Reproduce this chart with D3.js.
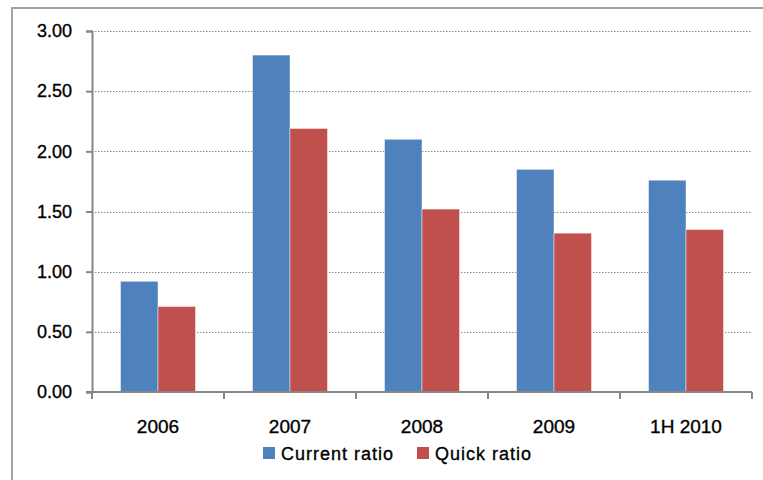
<!DOCTYPE html>
<html>
<head>
<meta charset="utf-8">
<script src="https://cdn.jsdelivr.net/npm/d3@7"></script>
<style>
  html, body { margin: 0; padding: 0; background: #fff; }
  svg { display: block; }
  text { font-family: "Liberation Sans", Arial, sans-serif; fill: #000; stroke: #000; stroke-width: 0.35px; }
</style>
</head>
<body>
<svg id="chart" width="763" height="480"></svg>
<script>
// Liquidity ratios by period
const categories = ["2006", "2007", "2008", "2009", "1H 2010"];
const seriesNames = ["Current ratio", "Quick ratio"];
const currentRatio = [0.92, 2.80, 2.10, 1.85, 1.76];
const quickRatio = [0.71, 2.19, 1.52, 1.32, 1.35];
const yTicks = [0, 0.5, 1.0, 1.5, 2.0, 2.5, 3.0];
const colors = ["#4F81BD", "#C0504D"];

const svg = d3.select("#chart");
const plot = { left: 92, right: 752, top: 31, bottom: 392 };

// outer frame (right and bottom edges fall outside the view)
svg.append("rect")
  .attr("x", 12).attr("y", 8)
  .attr("width", 800).attr("height", 500)
  .attr("fill", "none").attr("stroke", "#a3a3a3").attr("stroke-width", 2);

const y = d3.scaleLinear().domain([0, 3]).range([plot.bottom, plot.top]);
const x0 = d3.scaleBand().domain(categories)
  .range([plot.left, plot.right])
  .paddingInner(0.432).paddingOuter(0.216);
const x1 = d3.scaleBand().domain(seriesNames).range([0, x0.bandwidth()]);

// dotted gridlines
svg.append("g").selectAll("line")
  .data(yTicks.filter(d => d > 0))
  .join("line")
  .attr("x1", plot.left).attr("x2", plot.right)
  .attr("y1", d => Math.round(y(d)) + 0.5).attr("y2", d => Math.round(y(d)) + 0.5)
  .attr("stroke", "#8a8a8a").attr("stroke-width", 1)
  .attr("stroke-dasharray", "1.5,1.5");

// bars
const rows = categories.map((c, i) => ({ cat: c, vals: [currentRatio[i], quickRatio[i]] }));
const groups = svg.append("g").selectAll("g")
  .data(rows).join("g")
  .attr("transform", d => `translate(${x0(d.cat)},0)`);
groups.selectAll("rect")
  .data(d => d.vals.map((v, j) => ({ name: seriesNames[j], v, j })))
  .join("rect")
  .attr("x", d => x1(d.name))
  .attr("y", d => y(d.v))
  .attr("width", x1.bandwidth())
  .attr("height", d => y(0) - y(d.v))
  .attr("fill", d => colors[d.j])
  .attr("stroke", "rgba(255,255,255,0.45)")
  .attr("stroke-width", 1);

// y axis
const yAxis = svg.append("g")
  .attr("transform", `translate(${plot.left},0)`)
  .call(d3.axisLeft(y).tickValues(yTicks).tickFormat(d3.format(".2f")).tickSize(6).tickPadding(14));
yAxis.select(".domain").attr("stroke", "#878787").attr("stroke-width", 2);
yAxis.selectAll(".tick line").attr("stroke", "#878787").attr("stroke-width", 2);
yAxis.selectAll(".tick text")
  .attr("font-size", 18)
  .attr("font-family", "'Liberation Sans', Arial, sans-serif")
  .attr("fill", "#000");

// x axis with ticks on category boundaries
const step = x0.step();
const boundaries = categories.map(c => x0(c) - step * x0.paddingInner() / 2)
  .concat([plot.right]);
const xAxis = svg.append("g");
xAxis.append("line")
  .attr("x1", plot.left - 6).attr("x2", plot.right)
  .attr("y1", plot.bottom).attr("y2", plot.bottom)
  .attr("stroke", "#878787").attr("stroke-width", 2);
xAxis.selectAll("line.tk")
  .data(boundaries).join("line")
  .attr("class", "tk")
  .attr("x1", d => d).attr("x2", d => d)
  .attr("y1", plot.bottom).attr("y2", plot.bottom + 7)
  .attr("stroke", "#878787").attr("stroke-width", 2);
xAxis.selectAll("text")
  .data(categories).join("text")
  .attr("x", d => x0(d) + x0.bandwidth() / 2)
  .attr("y", 433)
  .attr("text-anchor", "middle")
  .attr("font-size", 19)
  .text(d => d);

// legend
const legendX = [263, 417];
const legend = svg.append("g").selectAll("g")
  .data(seriesNames).join("g")
  .attr("transform", (d, i) => `translate(${legendX[i]},447)`);
legend.append("rect")
  .attr("width", 12).attr("height", 12)
  .attr("fill", (d, i) => colors[i]);
legend.append("text")
  .attr("x", 18).attr("y", 12.5)
  .attr("font-size", 18)
  .attr("letter-spacing", 1)
  .text(d => d);
</script>
</body>
</html>
